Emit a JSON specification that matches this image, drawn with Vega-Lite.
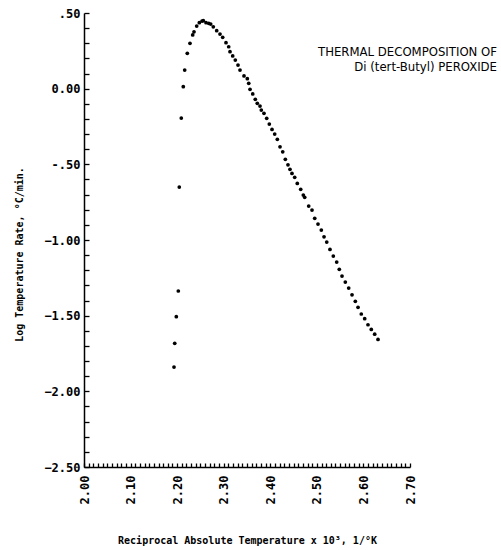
{
  "$schema": "https://vega.github.io/schema/vega-lite/v6.json",
  "autosize": "none",
  "width": 326,
  "height": 454,
  "padding": {"left": 84, "top": 13, "right": 91, "bottom": 83},
  "background": "white",
  "config": {
    "view": {"stroke": null},
    "axis": {
      "domainColor": "black",
      "domainWidth": 1.5,
      "tickColor": "black",
      "tickWidth": 1.3,
      "labelColor": "black",
      "labelFont": "DejaVu Sans Mono",
      "labelFontWeight": "bold",
      "labelFontSize": 12,
      "titleColor": "black",
      "titleFont": "DejaVu Sans Mono",
      "titleFontWeight": "bold",
      "titleFontSize": 10,
      "grid": false
    }
  },
  "title": {
    "text": ["THERMAL DECOMPOSITION OF", "Di (tert-Butyl) PEROXIDE"],
    "anchor": "end",
    "frame": "group",
    "orient": "top",
    "baseline": "top",
    "align": "right",
    "offset": 0,
    "dx": 87,
    "dy": 67,
    "font": "Liberation Sans Narrow, DejaVu Sans Condensed, sans-serif",
    "fontSize": 13,
    "fontWeight": "normal",
    "lineHeight": 15,
    "color": "black"
  },
  "data": {
    "values": [
      {"recip_T": 2.1933, "log_rate": -1.840},
      {"recip_T": 2.1948, "log_rate": -1.683},
      {"recip_T": 2.1982, "log_rate": -1.507},
      {"recip_T": 2.2025, "log_rate": -1.337},
      {"recip_T": 2.2046, "log_rate": -0.650},
      {"recip_T": 2.2089, "log_rate": -0.194},
      {"recip_T": 2.2132, "log_rate": 0.013},
      {"recip_T": 2.2162, "log_rate": 0.123},
      {"recip_T": 2.2218, "log_rate": 0.234},
      {"recip_T": 2.2276, "log_rate": 0.300},
      {"recip_T": 2.2334, "log_rate": 0.355},
      {"recip_T": 2.2362, "log_rate": 0.376},
      {"recip_T": 2.2420, "log_rate": 0.414},
      {"recip_T": 2.2476, "log_rate": 0.436},
      {"recip_T": 2.2534, "log_rate": 0.447},
      {"recip_T": 2.2562, "log_rate": 0.449},
      {"recip_T": 2.2620, "log_rate": 0.436},
      {"recip_T": 2.2678, "log_rate": 0.432},
      {"recip_T": 2.2721, "log_rate": 0.427},
      {"recip_T": 2.2776, "log_rate": 0.409},
      {"recip_T": 2.2849, "log_rate": 0.383},
      {"recip_T": 2.2920, "log_rate": 0.361},
      {"recip_T": 2.2978, "log_rate": 0.339},
      {"recip_T": 2.3049, "log_rate": 0.304},
      {"recip_T": 2.3107, "log_rate": 0.277},
      {"recip_T": 2.3135, "log_rate": 0.244},
      {"recip_T": 2.3193, "log_rate": 0.216},
      {"recip_T": 2.3249, "log_rate": 0.189},
      {"recip_T": 2.3307, "log_rate": 0.156},
      {"recip_T": 2.3350, "log_rate": 0.123},
      {"recip_T": 2.3436, "log_rate": 0.084},
      {"recip_T": 2.3507, "log_rate": 0.066},
      {"recip_T": 2.3537, "log_rate": 0.035},
      {"recip_T": 2.3565, "log_rate": -0.004},
      {"recip_T": 2.3623, "log_rate": -0.035},
      {"recip_T": 2.3678, "log_rate": -0.070},
      {"recip_T": 2.3721, "log_rate": -0.097},
      {"recip_T": 2.3779, "log_rate": -0.115},
      {"recip_T": 2.3807, "log_rate": -0.141},
      {"recip_T": 2.3865, "log_rate": -0.163},
      {"recip_T": 2.3923, "log_rate": -0.196},
      {"recip_T": 2.3979, "log_rate": -0.234},
      {"recip_T": 2.4037, "log_rate": -0.269},
      {"recip_T": 2.4095, "log_rate": -0.300},
      {"recip_T": 2.4151, "log_rate": -0.335},
      {"recip_T": 2.4209, "log_rate": -0.384},
      {"recip_T": 2.4267, "log_rate": -0.417},
      {"recip_T": 2.4323, "log_rate": -0.467},
      {"recip_T": 2.4380, "log_rate": -0.503},
      {"recip_T": 2.4423, "log_rate": -0.533},
      {"recip_T": 2.4466, "log_rate": -0.560},
      {"recip_T": 2.4524, "log_rate": -0.586},
      {"recip_T": 2.4580, "log_rate": -0.626},
      {"recip_T": 2.4653, "log_rate": -0.665},
      {"recip_T": 2.4709, "log_rate": -0.703},
      {"recip_T": 2.4739, "log_rate": -0.718},
      {"recip_T": 2.4825, "log_rate": -0.776},
      {"recip_T": 2.4896, "log_rate": -0.802},
      {"recip_T": 2.4954, "log_rate": -0.857},
      {"recip_T": 2.5025, "log_rate": -0.895},
      {"recip_T": 2.5096, "log_rate": -0.934},
      {"recip_T": 2.5154, "log_rate": -0.979},
      {"recip_T": 2.5212, "log_rate": -1.014},
      {"recip_T": 2.5282, "log_rate": -1.062},
      {"recip_T": 2.5353, "log_rate": -1.106},
      {"recip_T": 2.5426, "log_rate": -1.146},
      {"recip_T": 2.5482, "log_rate": -1.194},
      {"recip_T": 2.5540, "log_rate": -1.238},
      {"recip_T": 2.5611, "log_rate": -1.278},
      {"recip_T": 2.5684, "log_rate": -1.318},
      {"recip_T": 2.5755, "log_rate": -1.362},
      {"recip_T": 2.5826, "log_rate": -1.405},
      {"recip_T": 2.5884, "log_rate": -1.445},
      {"recip_T": 2.5954, "log_rate": -1.489},
      {"recip_T": 2.6027, "log_rate": -1.520},
      {"recip_T": 2.6098, "log_rate": -1.560},
      {"recip_T": 2.6169, "log_rate": -1.591},
      {"recip_T": 2.6242, "log_rate": -1.622},
      {"recip_T": 2.6313, "log_rate": -1.657}
    ]
  },
  "mark": {"type": "point", "shape": "circle", "filled": true, "color": "black", "size": 14, "opacity": 1},
  "encoding": {
    "x": {
      "field": "recip_T",
      "type": "quantitative",
      "scale": {"domain": [2.0, 2.7], "nice": false, "zero": false},
      "axis": {
        "title": "Reciprocal Absolute Temperature x 10³, 1/°K",
        "values": [2.0,2.01,2.02,2.03,2.04,2.05,2.06,2.07,2.08,2.09,2.1,2.11,2.12,2.13,2.14,2.15,2.16,2.17,2.18,2.19,2.2,2.21,2.22,2.23,2.24,2.25,2.26,2.27,2.28,2.29,2.3,2.31,2.32,2.33,2.34,2.35,2.36,2.37,2.38,2.39,2.4,2.41,2.42,2.43,2.44,2.45,2.46,2.47,2.48,2.49,2.5,2.51,2.52,2.53,2.54,2.55,2.56,2.57,2.58,2.59,2.6,2.61,2.62,2.63,2.64,2.65,2.66,2.67,2.68,2.69,2.7],
        "labelExpr": "round(datum.value*100) % 10 == 0 ? format(datum.value, '.2f') : ''",
        "labelAngle": 270,
        "labelAlign": "right",
        "labelBaseline": "middle",
        "labelPadding": 12,
        "labelOverlap": false,
        "labelFlush": false,
        "tickSize": -4,
        "titlePadding": 32
      }
    },
    "y": {
      "field": "log_rate",
      "type": "quantitative",
      "scale": {"domain": [-2.5, 0.5], "nice": false, "zero": false},
      "axis": {
        "title": "Log Temperature Rate, °C/min.",
        "values": [-2.5,-2.4,-2.3,-2.2,-2.1,-2.0,-1.9,-1.8,-1.7,-1.6,-1.5,-1.4,-1.3,-1.2,-1.1,-1.0,-0.9,-0.8,-0.7,-0.6,-0.5,-0.4,-0.3,-0.2,-0.1,0,0.1,0.2,0.3,0.4,0.5],
        "labelExpr": "round(datum.value*10) % 5 == 0 ? (datum.value == 0.5 ? '.50' : datum.value == -0.5 ? '-.50' : format(datum.value, '.2f')) : ''",
        "labelPadding": 9,
        "labelOverlap": false,
        "labelFlush": false,
        "ticks": true,
        "tickSize": -5,
        "tickWidth": 1.3,
        "titlePadding": 19,
        "titleY": 241
      }
    }
  }
}
